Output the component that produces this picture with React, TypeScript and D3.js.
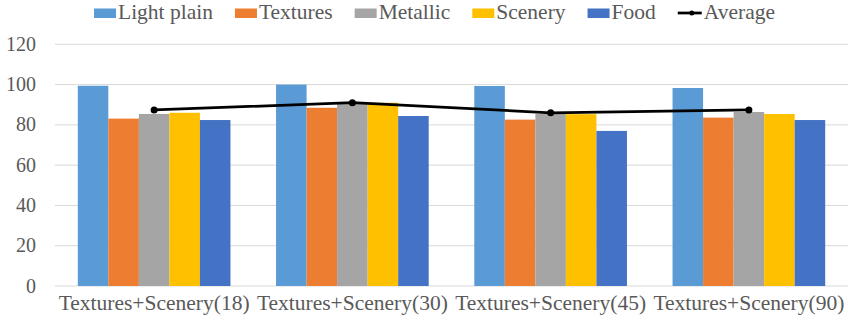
import React from 'react';
import * as d3 from 'd3';

const categories = ['Textures+Scenery(18)', 'Textures+Scenery(30)', 'Textures+Scenery(45)', 'Textures+Scenery(90)'];
const seriesNames = ['Light plain', 'Textures', 'Metallic', 'Scenery', 'Food'];
const seriesColours = ['#5B9BD5', '#ED7D31', '#A5A5A5', '#FFC000', '#4472C4'];
const lightPlain = [99.4, 100.0, 99.3, 98.3];
const textures = [83.1, 88.5, 82.6, 83.6];
const metallic = [85.4, 90.4, 85.4, 86.4];
const scenery = [86.0, 91.0, 85.3, 85.4];
const food = [82.4, 84.4, 77.0, 82.4];
const average = [87.4, 91.0, 86.0, 87.4];
const yTicks = [0, 20, 40, 60, 80, 100, 120];

const FONT = 'Liberation Serif';
const TEXT_COLOUR = '#595959';

const width = 848;
const height = 325;
const plot = { left: 55, right: 848, top: 44.3, bottom: 286 };
const legendFontSize = 21.5;
const legendBaseline = 19.2;

const measure = (text: string, size: number) => {
    const ctx = document.createElement('canvas').getContext('2d');
    if (!ctx) return text.length * size * 0.45;
    ctx.font = `${size}px "${FONT}"`;
    return ctx.measureText(text).width;
};

const App = () => {
    const seriesValues = [lightPlain, textures, metallic, scenery, food];

    const x = d3.scaleBand<string>()
        .domain(categories)
        .range([plot.left, plot.right])
        .paddingInner(0.23)
        .paddingOuter(0.115);

    const xInner = d3.scaleBand<string>()
        .domain(seriesNames)
        .range([0, x.bandwidth()])
        .padding(0);

    const y = d3.scaleLinear()
        .domain([0, 120])
        .range([plot.bottom, plot.top]);

    const cx = (i: number) => (x(categories[i]) as number) + x.bandwidth() / 2;
    const avgLine = d3.line<number>()
        .x((_, i) => cx(i))
        .y(d => y(d));

    // legend layout
    const swatchW = 22;
    const itemGap = 22;
    let lx = 94;
    const legendItems = seriesNames.map((name, si) => {
        const item = { name, colour: seriesColours[si], x: lx };
        lx += swatchW + 2 + measure(name, legendFontSize) + itemGap;
        return item;
    });
    const avgX = lx;

    return (
        <svg width={width} height={height} style={{ position: 'absolute', left: 0, top: 0, background: '#fff' }}>
            {yTicks.map(t => (
                <line key={'g' + t} x1={plot.left} x2={plot.right} y1={y(t)} y2={y(t)} stroke="#D9D9D9" strokeWidth={1} />
            ))}
            {yTicks.map(t => (
                <text key={'t' + t} x={36} y={y(t)} dy="0.33em" textAnchor="end"
                    fontFamily={FONT} fontSize={20} fill={TEXT_COLOUR}>{t}</text>
            ))}
            {seriesNames.map((name, si) => (
                <g key={name}>
                    {seriesValues[si].map((v, i) => (
                        <rect key={i}
                            x={(x(categories[i]) as number) + (xInner(name) as number)}
                            y={y(v)}
                            width={xInner.bandwidth()}
                            height={y(0) - y(v)}
                            fill={seriesColours[si]} />
                    ))}
                </g>
            ))}
            <path d={avgLine(average) || ''} fill="none" stroke="#000" strokeWidth={2.75} />
            {average.map((v, i) => (
                <circle key={i} cx={cx(i)} cy={y(v)} r={3.5} fill="#000" />
            ))}
            {categories.map(c => (
                <text key={c} x={(x(c) as number) + x.bandwidth() / 2} y={309.5} textAnchor="middle"
                    fontFamily={FONT} fontSize={21.5} fill={TEXT_COLOUR}>{c}</text>
            ))}
            <g>
                {legendItems.map(item => (
                    <g key={item.name}>
                        <rect x={item.x} y={8.5} width={swatchW} height={9.5} fill={item.colour} />
                        <text x={item.x + swatchW + 2} y={legendBaseline} fontFamily={FONT} fontSize={legendFontSize} fill={TEXT_COLOUR}>{item.name}</text>
                    </g>
                ))}
                <line x1={avgX} x2={avgX + 24} y1={13} y2={13} stroke="#000" strokeWidth={2.75} />
                <circle cx={avgX + 14} cy={13} r={2.5} fill="#000" />
                <text x={avgX + 26} y={legendBaseline} fontFamily={FONT} fontSize={legendFontSize} fill={TEXT_COLOUR}>Average</text>
            </g>
        </svg>
    );
};

export default App;
